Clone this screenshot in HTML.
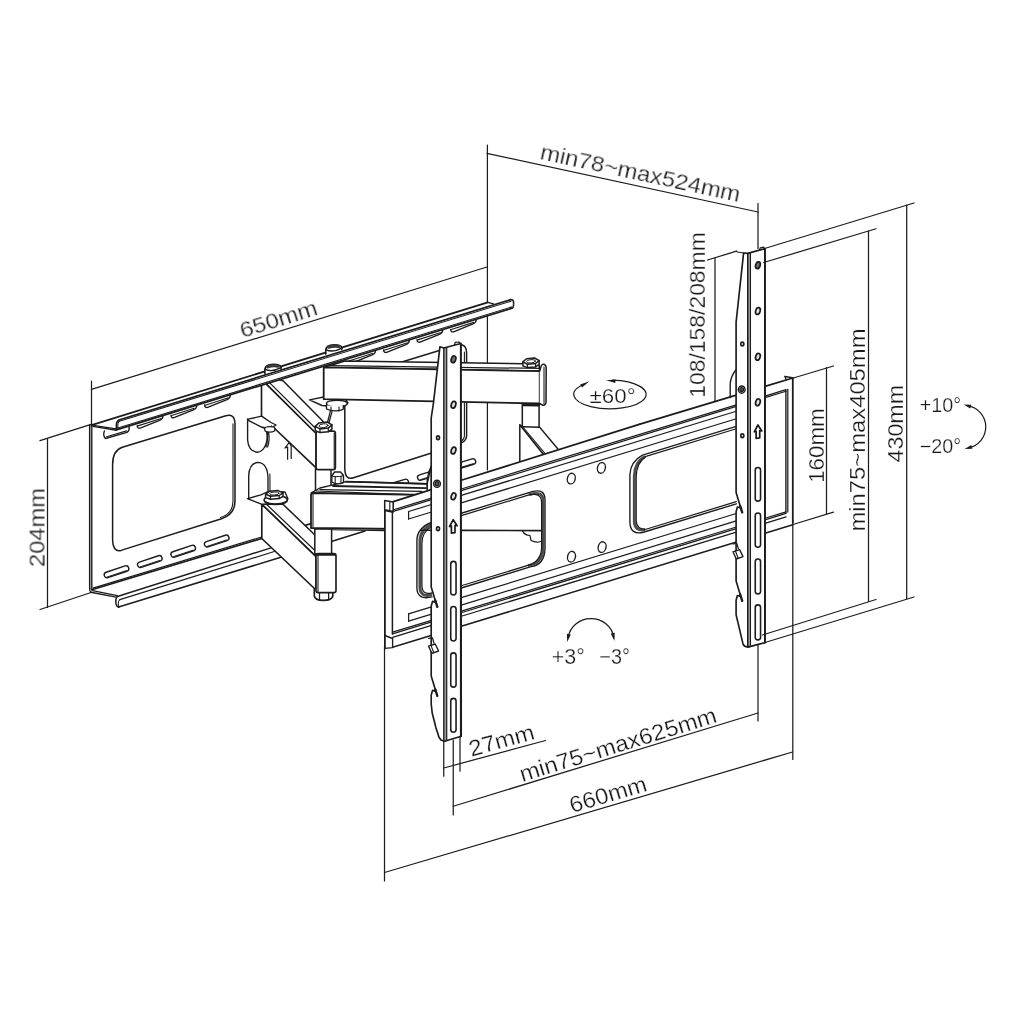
<!DOCTYPE html>
<html><head><meta charset="utf-8"><title>TV wall mount dimensions</title>
<style>
html,body{margin:0;padding:0;background:#fff;}
svg{display:block}
.t{font-family:"Liberation Sans",sans-serif;fill:#1a1a1a;stroke:#fff;}
</style></head><body>
<svg width="1028" height="1028" viewBox="0 0 1028 1028">
<rect x="0" y="0" width="1028" height="1028" fill="#fff" stroke="none" style="stroke:none"/>
<g stroke="#1c1c1c" stroke-linecap="round" stroke-linejoin="round" fill="none">
<path d="M487.40 145.00 L487.40 470.00" stroke-width="1.242" fill="none" />
<path d="M89.70 425.60 L89.70 588.50" stroke-width="1.518" fill="none" />
<path d="M91.80 426.30 L91.80 589.70" stroke-width="1.38" fill="none" />
<path d="M89.7 588.5 Q89.6 591.5 91 592.4" stroke-width="1.38" fill="none" />
<path d="M104.4 431 Q102.6 435.4 105.4 438.5 L127 432.3 Q129.5 431 129.2 427" stroke-width="1.38" fill="none" />
<path d="M106.60 436.70 L126.50 430.90" stroke-width="1.1039999999999999" fill="none" />
<path d="M137.2 425.68 Q137.2 428.68 140.2 428.08 L159.6 420.27 Q163.1 418.67 162.9 415.97" stroke-width="1.38" fill="none" />
<path d="M137.80 425.88 L160.40 418.67" stroke-width="1.1039999999999999" fill="none" />
<path d="M171 415.29 Q171 418.29 174 417.69 L193.4 409.88 Q196.9 408.28 196.70000000000002 405.58" stroke-width="1.38" fill="none" />
<path d="M171.60 415.49 L194.20 408.28" stroke-width="1.1039999999999999" fill="none" />
<path d="M204.6 404.97 Q204.6 407.97 207.6 407.37 L227.0 399.56 Q230.5 397.96 230.3 395.26" stroke-width="1.38" fill="none" />
<path d="M205.20 405.17 L227.80 397.96" stroke-width="1.1039999999999999" fill="none" />
<path d="M349.8 360.34 Q349.8 363.34 352.8 362.74 L372.2 354.94 Q375.7 353.34 375.5 350.64" stroke-width="1.38" fill="none" />
<path d="M350.40 360.54 L373.00 353.34" stroke-width="1.1039999999999999" fill="none" />
<path d="M383.6 349.96 Q383.6 352.96 386.6 352.36 L406.0 344.55 Q409.5 342.95 409.3 340.25" stroke-width="1.38" fill="none" />
<path d="M384.20 350.16 L406.80 342.95" stroke-width="1.1039999999999999" fill="none" />
<path d="M417.0 339.69 Q417.0 342.69 420.0 342.09 L439.4 334.29 Q442.9 332.69 442.7 329.99" stroke-width="1.38" fill="none" />
<path d="M417.60 339.89 L440.20 332.69" stroke-width="1.1039999999999999" fill="none" />
<path d="M450.6 329.37 Q450.6 332.37 453.6 331.77 L473.0 323.96 Q476.5 322.36 476.3 319.66" stroke-width="1.38" fill="none" />
<path d="M451.20 329.57 L473.80 322.36" stroke-width="1.1039999999999999" fill="none" />
<path d="M112.6 464.5 Q112.6 450.5 122.3 447.2 L225 415.92 Q234.8 412.72 235 423.92 L235 501 Q235 514.24 221.5 518.74 L121.1 550.4 Q112.6 552.5 112.6 538.5 Z" stroke-width="1.518" fill="none" />
<path d="M233 423.92 L233 501 Q233 513.74 220.5 517.54" stroke-width="1.1039999999999999" fill="none" />
<path d="M107.00 574.90 L126.00 568.60" stroke-width="6.9799999999999995" stroke-linecap="round" stroke="#1c1c1c" fill="none"/>
<path d="M107.00 574.90 L126.00 568.60" stroke-width="4.22" stroke-linecap="round" stroke="#fff" fill="none"/>
<path d="M106.90 577.10 L126.20 570.70" stroke-width="0.9659999999999999" fill="none" />
<path d="M140.30 564.70 L159.30 558.40" stroke-width="6.9799999999999995" stroke-linecap="round" stroke="#1c1c1c" fill="none"/>
<path d="M140.30 564.70 L159.30 558.40" stroke-width="4.22" stroke-linecap="round" stroke="#fff" fill="none"/>
<path d="M140.20 566.90 L159.50 560.50" stroke-width="0.9659999999999999" fill="none" />
<path d="M173.70 554.40 L192.70 548.10" stroke-width="6.9799999999999995" stroke-linecap="round" stroke="#1c1c1c" fill="none"/>
<path d="M173.70 554.40 L192.70 548.10" stroke-width="4.22" stroke-linecap="round" stroke="#fff" fill="none"/>
<path d="M173.60 556.60 L192.90 550.20" stroke-width="0.9659999999999999" fill="none" />
<path d="M207.20 544.20 L226.20 537.90" stroke-width="6.9799999999999995" stroke-linecap="round" stroke="#1c1c1c" fill="none"/>
<path d="M207.20 544.20 L226.20 537.90" stroke-width="4.22" stroke-linecap="round" stroke="#fff" fill="none"/>
<path d="M207.10 546.40 L226.40 540.00" stroke-width="0.9659999999999999" fill="none" />
<path d="M91.80 589.70 L261.60 538.50" stroke-width="1.656" fill="none" />
<path d="M93.00 588.10 L261.60 537.00" stroke-width="1.1039999999999999" fill="none" />
<path d="M90.80 592.30 L116.10 597.10" stroke-width="1.38" fill="none" />
<path d="M92.50 590.60 L117.40 595.60" stroke-width="1.1039999999999999" fill="none" />
<path d="M117.40 596.50 L271.00 547.80" stroke-width="1.38" fill="none" />
<path d="M119.90 599.60 L275.90 551.00" stroke-width="1.242" fill="none" />
<path d="M118.60 607.10 L280.90 557.20" stroke-width="1.518" fill="none" />
<path d="M117.4 596.5 Q115.6 598 115.8 602 Q116 606.5 118.6 607.1" stroke-width="1.518" fill="none" />
<path d="M119.9 599.6 Q118 601 118.2 604 Q118.4 606.5 119.5 607" stroke-width="1.1039999999999999" fill="none" />
<path d="M247.6 419 L247.6 440 Q248.5 451.5 257.5 452.3 Q266 451 267.6 436 L267.6 427.5" stroke-width="1.38" fill="none" />
<path d="M248.7 499 L248.7 476 Q249.2 463 258.4 462.4 Q267.6 463.5 268 478 L268 493.5" stroke-width="1.38" fill="none" />
<path d="M269.9 474 L270 490.5" stroke-width="1.1039999999999999" fill="none" />
<path d="M344.8 392 Q344.8 379 354.5 376.4 L456.5 345.3 Q466.4 342.5 466.6 353 L466.6 436 Q466.6 442 456 445.2 L353.5 477.8 Q344.8 480.5 344.8 468 Z" stroke-width="1.518" fill="none" />
<path d="M464.4 352 L464.4 436 Q464.3 441 456 443.6" stroke-width="1.1039999999999999" fill="none" />
<path d="M353.10 497.90 L372.10 492.20" stroke-width="6.9799999999999995" stroke-linecap="round" stroke="#1c1c1c" fill="none"/>
<path d="M353.10 497.90 L372.10 492.20" stroke-width="4.22" stroke-linecap="round" stroke="#fff" fill="none"/>
<path d="M353.10 500.10 L372.30 494.30" stroke-width="0.9659999999999999" fill="none" />
<path d="M386.70 487.70 L405.70 482.00" stroke-width="6.9799999999999995" stroke-linecap="round" stroke="#1c1c1c" fill="none"/>
<path d="M386.70 487.70 L405.70 482.00" stroke-width="4.22" stroke-linecap="round" stroke="#fff" fill="none"/>
<path d="M386.70 489.90 L405.90 484.10" stroke-width="0.9659999999999999" fill="none" />
<path d="M420.30 477.50 L439.30 471.80" stroke-width="6.9799999999999995" stroke-linecap="round" stroke="#1c1c1c" fill="none"/>
<path d="M420.30 477.50 L439.30 471.80" stroke-width="4.22" stroke-linecap="round" stroke="#fff" fill="none"/>
<path d="M420.30 479.70 L439.50 473.90" stroke-width="0.9659999999999999" fill="none" />
<path d="M453.90 467.30 L472.90 461.60" stroke-width="6.9799999999999995" stroke-linecap="round" stroke="#1c1c1c" fill="none"/>
<path d="M453.90 467.30 L472.90 461.60" stroke-width="4.22" stroke-linecap="round" stroke="#fff" fill="none"/>
<path d="M453.90 469.50 L473.10 463.70" stroke-width="0.9659999999999999" fill="none" />
<path d="M280.90 557.20 L365.00 531.00" stroke-width="1.518" fill="none" />
<path d="M261.60 538.50 L330.00 517.90" stroke-width="1.656" fill="none" />
<path d="M261.80 504.30 L283.00 504.30 L316.00 536.00 L316.00 556.60 Z" stroke-width="1.518" fill="#fff" />
<path d="M261.80 504.30 L316.00 556.60 L316.00 590.00 L261.80 538.50 Z" stroke-width="1.656" fill="#fff" />
<path d="M266.50 504.30 L318.30 553.80" stroke-width="1.242" fill="none" />
<path d="M247.50 498.60 L261.00 494.80 L268.00 491.50 L285.00 492.00 L288.00 499.00 L282.00 503.50 L262.00 504.30 Z" stroke-width="1.38" fill="#fff" />
<ellipse cx="275.7" cy="500" rx="11.6" ry="4.6" transform="rotate(0 275.7 500)" stroke-width="1.518" fill="#fff"/>
<path d="M264.5 501.5 Q275 506.5 287 501.3" stroke-width="1.242" fill="none" />
<path d="M265.60 494.10 L265.60 497.62 L270.47 499.20 L279.17 498.58 L283.00 496.38 L283.00 492.86 Z" stroke-width="1.518" fill="#fff" />
<path d="M265.60 494.10 L269.43 491.28 L278.13 490.58 L283.00 492.86 L279.17 495.50 L270.47 496.21 Z" stroke-width="1.518" fill="#fff" />
<path d="M270.47 496.21 L270.47 499.20" stroke-width="1.242" fill="none" />
<path d="M279.17 495.50 L279.17 498.58" stroke-width="1.242" fill="none" />
<ellipse cx="274.3" cy="493.568" rx="4.697999999999994" ry="1.496000000000002" transform="rotate(-4 274.3 493.568)" stroke-width="0.9659999999999999" fill="none"/>
<path d="M261.50 379.40 L264.00 374.00 L283.30 381.00 L323.20 421.50 L316.10 433.50 Z" stroke-width="1.518" fill="#fff" />
<path d="M261.50 379.40 L316.10 433.50 L316.10 467.90 L261.50 416.00 Z" stroke-width="1.656" fill="#fff" />
<path d="M266.20 379.40 L317.20 430.00" stroke-width="1.242" fill="none" />
<path d="M248.20 419.20 L261.50 416.20 L271.00 422.50 L276.00 425.00 L270.50 428.60 L262.00 427.30 L248.20 420.30 Z" stroke-width="1.38" fill="#fff" />
<path d="M262 427.3 Q266 429.5 271 428.5 L271.5 426" stroke-width="1.242" fill="none" />
<ellipse cx="269.8" cy="428.6" rx="5.2" ry="2.0" transform="rotate(0 269.8 428.6)" stroke-width="1.242" fill="#fff"/>
<path d="M264.8 429 L265 431 Q270 433.4 274.6 431 L274.8 428.8" stroke-width="1.242" fill="#fff" />
<path d="M266.5 432 Q268.5 441 266 447" stroke-width="1.242" fill="none" />
<path d="M268.6 432.6 Q270 440 267.6 447" stroke-width="1.242" fill="none" />
<path d="M287.6 459.2 L287.6 447 L285 448 L289.3 442.3 L291.2 446.2 L291.2 458.5" stroke-width="1.242" fill="none" />
<path d="M315.50 469.00 L331.00 469.00 L331.00 492.00 L315.50 492.00 Z" stroke-width="1.518" fill="#fff" />
<path d="M314.80 529.00 L331.60 529.00 L331.60 554.00 L314.80 554.00 Z" stroke-width="1.518" fill="#fff" />
<path d="M318.3 431.1 L333.2 431.1 Q335.4 431.1 335.4 433.3 L335.4 467.5 Q335.4 469.7 333.2 469.7 L318.3 469.7 Q316.1 469.7 316.1 467.5 L316.1 433.3 Q316.1 431.1 318.3 431.1 Z" stroke-width="1.656" fill="#fff" />
<path d="M334.20 433.00 L334.20 468.00" stroke-width="1.1039999999999999" fill="none" />
<path d="M315.30 426.34 L315.30 430.66 L319.95 432.60 L328.25 431.84 L331.90 429.14 L331.90 424.82 Z" stroke-width="1.518" fill="#fff" />
<path d="M315.30 426.34 L318.95 422.88 L327.25 422.02 L331.90 424.82 L328.25 428.06 L319.95 428.93 Z" stroke-width="1.518" fill="#fff" />
<path d="M319.95 428.93 L319.95 432.60" stroke-width="1.242" fill="none" />
<path d="M328.25 428.06 L328.25 431.84" stroke-width="1.242" fill="none" />
<ellipse cx="323.6" cy="425.688" rx="4.481999999999991" ry="1.836000000000002" transform="rotate(-4 323.6 425.688)" stroke-width="0.9659999999999999" fill="none"/>
<path d="M314.3 589 L314.3 596 Q315 600.2 323 600.4 Q332 600.4 332.8 596 L332.8 589" stroke-width="1.656" fill="#fff" />
<path d="M319.50 592.00 L319.50 600.00" stroke-width="1.242" fill="none" />
<path d="M328.60 592.00 L328.60 600.00" stroke-width="1.242" fill="none" />
<path d="M318.2 553.6 L333.8 553.6 Q336 553.6 336 555.8000000000001 L336 590.5 Q336 592.7 333.8 592.7 L318.2 592.7 Q316 592.7 316 590.5 L316 555.8000000000001 Q316 553.6 318.2 553.6 Z" stroke-width="1.656" fill="#fff" />
<path d="M318.00 555.00 L318.00 591.50" stroke-width="1.1039999999999999" fill="none" />
<path d="M317 554.6 L335 554.6" stroke-width="2.2079999999999997" fill="none" />
<path d="M309.50 399.90 L323.70 397.00 L345.00 399.00 L348.00 403.00 L338.00 406.80 L322.00 405.50 Z" stroke-width="1.38" fill="#fff" />
<ellipse cx="336.8" cy="403.6" rx="10.4" ry="3.4" transform="rotate(0 336.8 403.6)" stroke-width="1.38" fill="#fff"/>
<path d="M326.3 405.5 L326.6 409 Q334 412.6 343.2 409.3 L343.4 405.8" stroke-width="1.38" fill="#fff" />
<path d="M331.00 407.00 L331.00 411.00" stroke-width="1.1039999999999999" fill="none" />
<path d="M339.00 407.00 L339.00 411.00" stroke-width="1.1039999999999999" fill="none" />
<path d="M330.3 411.4 L327.6 422" stroke-width="1.242" fill="none" />
<path d="M332 411.6 L329 422.5" stroke-width="1.242" fill="none" />
<path d="M323.70 367.40 L344.90 361.10 L539.00 364.00 L539.70 371.10 Z" stroke-width="1.518" fill="#fff" />
<path d="M330.00 365.60 L539.50 368.40" stroke-width="1.242" fill="none" />
<path d="M323.70 367.40 L539.70 371.10 L539.70 403.50 L323.70 399.20 Z" stroke-width="1.7939999999999998" fill="#fff" />
<path d="M539.7 371.1 L541 366.5 Q542 363.6 544.5 364.5 Q546.2 365.3 546.2 368 L546 402 Q545.8 405.5 543 405.3 L539.7 403.5" stroke-width="1.518" fill="#fff" />
<path d="M544.00 367.00 L544.00 403.50" stroke-width="1.1039999999999999" fill="none" />
<path d="M522.90 361.92 L522.90 365.84 L527.44 367.60 L535.54 366.91 L539.10 364.46 L539.10 360.54 Z" stroke-width="1.518" fill="#fff" />
<path d="M522.90 361.92 L526.46 358.78 L534.56 358.00 L539.10 360.54 L535.54 363.48 L527.44 364.27 Z" stroke-width="1.518" fill="#fff" />
<path d="M527.44 364.27 L527.44 367.60" stroke-width="1.242" fill="none" />
<path d="M535.54 363.48 L535.54 366.91" stroke-width="1.242" fill="none" />
<ellipse cx="531.0" cy="361.32800000000003" rx="4.374000000000013" ry="1.6660000000000021" transform="rotate(-4 531.0 361.32800000000003)" stroke-width="0.9659999999999999" fill="none"/>
<path d="M522.30 404.30 L539.10 404.50 L539.10 428.00 L522.30 428.00 Z" stroke-width="1.518" fill="#fff" />
<path d="M523 405.2 L538.5 405.4" stroke-width="2.07" fill="none" />
<path d="M519.80 424.90 L523.00 426.80 L539.70 427.30 L560.00 451.50 L545.00 456.50 Z" stroke-width="1.38" fill="#fff" />
<path d="M519.80 424.90 L545.00 456.50 L545.00 470.00 L519.80 470.00 Z" stroke-width="1.518" fill="#fff" />
<path d="M522.50 426.50 L547.00 455.80" stroke-width="1.1039999999999999" fill="none" />
<path d="M91.50 425.10 L116.30 429.90 L512.00 308.30 L513.60 302.50 L510.80 299.60 L493.40 303.80 L487.80 302.30 Z" stroke-width="0.13799999999999998" fill="#fff" stroke="none"/>
<path d="M91.50 425.10 L487.80 302.30" stroke-width="1.7939999999999998" fill="none" />
<path d="M93.00 426.40 L116.40 430.20" stroke-width="1.38" fill="none" />
<path d="M91.50 425.10 L116.10 428.90" stroke-width="1.38" fill="none" />
<path d="M487.80 302.30 L493.40 303.80" stroke-width="1.38" fill="none" />
<path d="M119.60 419.70 L510.80 299.60" stroke-width="1.656" fill="none" />
<path d="M119.20 421.30 L511.00 301.20" stroke-width="1.1039999999999999" fill="none" />
<path d="M116.30 429.90 L512.00 308.30" stroke-width="1.656" fill="none" />
<path d="M116.30 428.50 L512.00 306.90" stroke-width="1.1039999999999999" fill="none" />
<path d="M119.6 419.7 Q116.6 421 116.4 424 L116.3 429.9" stroke-width="1.518" fill="none" />
<path d="M118.8 421.6 Q117.8 422.6 117.8 425 L117.8 429" stroke-width="1.1039999999999999" fill="none" />
<path d="M510.8 299.6 Q513.6 299.6 513.6 302.5 L513.5 306 Q513.4 308 512 308.3" stroke-width="1.518" fill="none" />
<path d="M264.9 373.7 L264.9 369.2 Q265.4 364.7 272.9 364.4 Q280.4 364.2 280.9 367.2 L280.9 369.2" stroke-width="1.656" fill="#fff" />
<path d="M264.9 369.2 Q271.9 372.7 280.9 367.7" stroke-width="1.38" fill="none" />
<path d="M267.7 366.9 Q272.9 365.0 278.29999999999995 366.2" stroke-width="3.036" fill="none" stroke="#3a3a3a"/>
<path d="M325.8 354.1 L325.8 349.6 Q326.3 345.1 333.8 344.8 Q341.3 344.6 341.8 347.6 L341.8 349.6" stroke-width="1.656" fill="#fff" />
<path d="M325.8 349.6 Q332.8 353.1 341.8 348.1" stroke-width="1.38" fill="none" />
<path d="M328.6 347.3 Q333.8 345.40000000000003 339.2 346.6" stroke-width="3.036" fill="none" stroke="#3a3a3a"/>
<path d="M311.50 492.60 L320.00 488.00 L333.00 484.80 L346.00 481.60 L427.20 483.80 L430.30 469.90 L431.50 468.00 L431.50 497.00 L385.00 497.00 Z" stroke-width="1.38" fill="#fff" />
<path d="M346.00 481.60 L427.20 483.80" stroke-width="1.656" fill="none" />
<path d="M333.00 486.00 L426.00 488.10" stroke-width="1.7939999999999998" fill="none" />
<path d="M320.00 489.60 L422.00 491.30" stroke-width="1.242" fill="none" />
<path d="M316.00 491.00 L410.00 494.60" stroke-width="1.242" fill="none" />
<path d="M427.20 483.80 L427.20 489.00" stroke-width="1.242" fill="none" />
<path d="M331.8 476 L331.8 482 Q337 485.5 343.5 482.5 L343.5 475.5 L340.5 472 L334.5 472 Z" stroke-width="1.38" fill="#fff" />
<path d="M335.20 476.80 L335.20 483.30" stroke-width="1.1039999999999999" fill="none" />
<path d="M341.00 476.20 L341.00 483.00" stroke-width="1.1039999999999999" fill="none" />
<path d="M331.8 476 L335.2 476.8 L341 476.2 L343.5 475.5" stroke-width="1.1039999999999999" fill="none" />
<path d="M312.9 493 L545 497 L540.7 530.6 L311 528 L311 495 Q311 493 312.9 493 Z" stroke-width="1.7939999999999998" fill="#fff" />
<path d="M313.00 494.50 L313.00 527.00" stroke-width="1.1039999999999999" fill="none" />
<path d="M332.00 529.80 L385.00 530.60" stroke-width="1.1039999999999999" fill="none" />
<path d="M384.70 500.50 L392.00 502.00 L640.00 424.20 L792.80 378.00 L792.80 522.50 L392.60 647.60 L384.90 648.40 Z" stroke-width="0.13799999999999998" fill="#fff" stroke="none"/>
<path d="M392.50 501.84 L432.00 489.45" stroke-width="1.7939999999999998" fill="none" />
<path d="M461.30 480.26 L640.00 424.20" stroke-width="1.7939999999999998" fill="none" />
<path d="M640.00 424.20 L736.30 395.08" stroke-width="1.7939999999999998" fill="none" />
<path d="M765.00 386.41 L792.80 378.00" stroke-width="1.7939999999999998" fill="none" />
<path d="M392.60 510.00 L431.50 498.10" stroke-width="1.242" fill="none" />
<path d="M392.60 511.60 L431.50 499.70" stroke-width="1.242" fill="none" />
<path d="M461.30 488.98 L736.30 404.83" stroke-width="1.242" fill="none" />
<path d="M461.30 490.58 L736.30 406.43" stroke-width="1.242" fill="none" />
<path d="M765.00 396.05 L786.00 389.62" stroke-width="1.242" fill="none" />
<path d="M765.00 397.65 L786.00 391.22" stroke-width="1.242" fill="none" />
<path d="M408.60 511.51 L431.50 504.50" stroke-width="1.242" fill="none" />
<path d="M408.60 519.01 L431.50 512.00" stroke-width="1.242" fill="none" />
<path d="M461.30 495.38 L736.30 411.23" stroke-width="1.242" fill="none" />
<path d="M461.30 502.88 L736.30 418.73" stroke-width="1.242" fill="none" />
<path d="M408.60 511.51 L408.60 519.01" stroke-width="1.242" fill="none" />
<path d="M408.60 613.81 L431.50 606.80" stroke-width="1.242" fill="none" />
<path d="M408.60 621.21 L431.50 614.20" stroke-width="1.242" fill="none" />
<path d="M461.30 597.68 L736.30 513.53" stroke-width="1.242" fill="none" />
<path d="M461.30 605.08 L736.30 520.93" stroke-width="1.242" fill="none" />
<path d="M408.60 613.81 L408.60 621.21" stroke-width="1.242" fill="none" />
<path d="M392.60 632.20 L431.50 620.30" stroke-width="1.242" fill="none" />
<path d="M392.60 633.80 L431.50 621.90" stroke-width="1.242" fill="none" />
<path d="M392.60 637.30 L431.50 625.40" stroke-width="1.242" fill="none" />
<path d="M461.30 611.18 L736.30 527.03" stroke-width="1.242" fill="none" />
<path d="M461.30 612.78 L736.30 528.63" stroke-width="1.242" fill="none" />
<path d="M461.30 616.28 L736.30 532.13" stroke-width="1.242" fill="none" />
<path d="M765.00 518.25 L786.00 511.82" stroke-width="1.242" fill="none" />
<path d="M765.00 519.85 L786.00 513.42" stroke-width="1.242" fill="none" />
<path d="M765.00 523.35 L786.00 516.92" stroke-width="1.242" fill="none" />
<path d="M392.60 647.30 L440.00 632.80" stroke-width="1.518" fill="none" />
<path d="M461.30 626.28 L743.00 540.08" stroke-width="1.518" fill="none" />
<path d="M765.00 533.35 L792.80 524.84" stroke-width="1.518" fill="none" />
<path d="M384.90 500.80 L384.90 648.40" stroke-width="1.7939999999999998" fill="none" />
<path d="M392.40 510.87 L392.40 634.07" stroke-width="1.518" fill="none" />
<path d="M384.70 500.50 L393.20 502.10 L393.20 511.40 L384.70 509.80 Z" stroke-width="1.518" fill="#fff" />
<path d="M389.80 501.50 L389.80 510.60" stroke-width="1.1039999999999999" fill="none" />
<path d="M384.90 510.60 L393.00 512.30" stroke-width="1.242" fill="none" />
<path d="M384.90 635.50 L392.60 638.50 L392.60 647.60 L384.90 648.40" stroke-width="1.38" fill="none" />
<path d="M792.80 378.00 L792.80 522.50" stroke-width="1.7939999999999998" fill="none" />
<path d="M785.90 390.45 L785.90 512.65" stroke-width="1.38" fill="none" />
<path d="M787.80 389.37 L787.80 512.07" stroke-width="1.242" fill="none" />
<path d="M785.00 376.50 L792.30 377.80" stroke-width="1.38" fill="none" />
<path d="M785.00 376.50 L786.20 379.80" stroke-width="1.38" fill="none" />
<path d="M736.3 426.43 L642.5 455.13 Q630.5 461.49 629.9 474.7 L629.9 522.3 Q630.1999999999999 534.89 642.5 532.53 L736.3 503.83" stroke-width="1.38" fill="none" />
<path d="M645 456.57 Q634.6 462.05 634.3 476 L634.3 521.5 Q634.6 531.55 645 529.77" stroke-width="2.8979999999999997" fill="none" stroke="#4d4d4d" stroke-linecap="butt"/>
<path d="M736.3 428.73 L646 456.36 Q636.4 462.50 636.2 477 L636.2 520.5 Q636.4 529.40 646 529.26 L736.3 501.63" stroke-width="1.242" fill="none" />
<path d="M461.3 513.28 L533 491.34 Q545 488.67 545 499.67 L545 548.37 Q544.5 564.82 531 566.65 L461.3 587.98" stroke-width="1.38" fill="none" />
<path d="M529 494.57 Q543.3 490.19 543.3 501.19 L543.3 547.89 Q543 562.62 528 565.57" stroke-width="2.8979999999999997" fill="none" stroke="#4d4d4d" stroke-linecap="butt"/>
<path d="M461.3 515.58 L529 494.87 Q541.6 492.11 541.6 502.71 L541.6 547.41 Q541.3 561.74 527 565.68 L461.3 585.78" stroke-width="1.242" fill="none" />
<path d="M432 522.25 Q416.9 527.87 416.9 540.87 L416.9 587.57 Q416.9 600.57 432 596.95" stroke-width="1.38" fill="none" />
<path d="M432 524.45 Q419.9 529.37 419.9 541.87 L419.9 586.57 Q419.9 598.07 432 594.75" stroke-width="2.8979999999999997" fill="none" stroke="#4d4d4d" stroke-linecap="butt"/>
<path d="M432 526.25 Q421.9 531.87 421.9 543.37 L421.9 585.07 Q421.9 595.57 432 592.95" stroke-width="1.242" fill="none" />
<path d="M461.30 530.40 L540.70 530.60" stroke-width="1.656" fill="none" />
<path d="M421.50 530.20 L431.50 530.30" stroke-width="1.518" fill="none" />
<path d="M522.6 531 Q524 535 530 535.5 L531 540.5 Q536 543 540.7 541.5" stroke-width="1.242" fill="none" />
<ellipse cx="571.3" cy="478.6" rx="3.9" ry="5.4" transform="rotate(14 571.3 478.6)" stroke-width="1.38" fill="none"/>
<ellipse cx="601.4" cy="467.9" rx="3.9" ry="5.4" transform="rotate(14 601.4 467.9)" stroke-width="1.38" fill="none"/>
<ellipse cx="571.5" cy="556.7" rx="3.9" ry="5.4" transform="rotate(14 571.5 556.7)" stroke-width="1.38" fill="none"/>
<ellipse cx="602.1" cy="547.1" rx="3.9" ry="5.4" transform="rotate(14 602.1 547.1)" stroke-width="1.38" fill="none"/>
<path d="M743.60 253.00 L736.10 322.20 L736.10 492.50 L740.80 508.00 L737.40 507.00 L736.10 511.80 L736.10 581.00 L740.80 596.50 L737.40 595.50 L736.10 600.30 L736.10 614.70 L743.10 644.40 L744.60 646.10 L747.90 647.10 L747.90 647.10 L765.00 642.70 L764.90 248.70 L747.70 253.40 Z" stroke-width="1.656" fill="#fff" />
<path d="M747.70 253.40 L747.70 647.10" stroke-width="1.38" fill="none" />
<path d="M750.40 253.10 L750.40 646.50" stroke-width="1.242" fill="none" />
<path d="M748.85 253.40 L748.85 647.10" stroke-width="0.828" fill="none" />
<path d="M764.90 248.70 L764.90 642.70" stroke-width="1.7939999999999998" fill="none" />
<ellipse cx="757.9" cy="265.2" rx="2.2" ry="3.5" transform="rotate(18 757.9 265.2)" stroke-width="1.7249999999999999" fill="#777"/>
<ellipse cx="757.9" cy="311" rx="2.2" ry="3.5" transform="rotate(18 757.9 311)" stroke-width="1.7249999999999999" fill="#e4e4e4"/>
<ellipse cx="757.9" cy="356.8" rx="2.2" ry="3.5" transform="rotate(18 757.9 356.8)" stroke-width="1.7249999999999999" fill="#e4e4e4"/>
<ellipse cx="757.9" cy="402.3" rx="2.2" ry="3.5" transform="rotate(18 757.9 402.3)" stroke-width="1.7249999999999999" fill="#e4e4e4"/>
<ellipse cx="742.3" cy="344" rx="1.5" ry="1.9" transform="rotate(0 742.3 344)" stroke-width="1.656" fill="none"/>
<ellipse cx="742.3" cy="435.7" rx="1.5" ry="1.9" transform="rotate(0 742.3 435.7)" stroke-width="1.656" fill="none"/>
<ellipse cx="741.7" cy="389.6" rx="3.4" ry="3.6" transform="rotate(0 741.7 389.6)" stroke-width="1.38" fill="none"/>
<ellipse cx="741.7" cy="389.6" rx="1.9" ry="2.1" transform="rotate(0 741.7 389.6)" stroke-width="1.242" fill="#555"/>
<path d="M757.9 425.0 L761.8 431.0 L759.6999999999999 430.70000000000005 L759.6999999999999 437.90000000000003 L756.1 438.40000000000003 L756.1 431.20000000000005 L754.3 431.8 Z" stroke-width="1.7249999999999999" fill="none" />
<path d="M757.90 470.20 L757.90 498.50" stroke-width="6.887" stroke-linecap="round" stroke="#1c1c1c" fill="none"/>
<path d="M757.90 470.20 L757.90 498.50" stroke-width="3.713" stroke-linecap="round" stroke="#fff" fill="none"/>
<path d="M757.90 515.60 L757.90 544.60" stroke-width="6.887" stroke-linecap="round" stroke="#1c1c1c" fill="none"/>
<path d="M757.90 515.60 L757.90 544.60" stroke-width="3.713" stroke-linecap="round" stroke="#fff" fill="none"/>
<path d="M757.90 561.70 L757.90 591.20" stroke-width="6.887" stroke-linecap="round" stroke="#1c1c1c" fill="none"/>
<path d="M757.90 561.70 L757.90 591.20" stroke-width="3.713" stroke-linecap="round" stroke="#fff" fill="none"/>
<path d="M757.90 607.50 L757.90 637.20" stroke-width="6.887" stroke-linecap="round" stroke="#1c1c1c" fill="none"/>
<path d="M757.90 607.50 L757.90 637.20" stroke-width="3.713" stroke-linecap="round" stroke="#fff" fill="none"/>
<path d="M736.10 251.20 L737.50 252.00 L743.60 253.00" stroke-width="1.242" fill="none" />
<path d="M759.6 250 L760.2 247.8 L763.6 247.2 L764.6 248.8" stroke-width="1.242" fill="none" />
<path d="M740.20 506.00 L742.20 512.40" stroke-width="2.3459999999999996" fill="none" />
<path d="M740.20 594.50 L742.20 600.90" stroke-width="2.3459999999999996" fill="none" />
<path d="M736.1 369.5 Q731 376 730.2 383.5 L730.2 397.5" stroke-width="1.38" fill="none" />
<path d="M733.00 551.80 L739.60 549.60 L743.00 556.60 L736.30 559.00 Z" stroke-width="1.38" fill="#fff" />
<path d="M735.40 551.00 L738.20 558.30" stroke-width="1.1039999999999999" fill="none" />
<path d="M733 544 L736.8 543.4 L738.4 548.6" stroke-width="1.242" fill="none" />
<path d="M439.90 346.80 L433.40 403.50 L431.20 418.00 L431.20 587.00 L435.90 602.40 L432.50 601.40 L431.20 606.20 L431.20 676.00 L435.90 691.40 L432.50 690.40 L431.20 695.20 L431.20 704.00 L432.20 713.00 L436.00 728.00 L439.00 737.30 L441.00 740.00 L444.50 741.30 L444.50 741.30 L461.25 736.30 L460.80 343.50 L443.80 348.00 Z" stroke-width="1.656" fill="#fff" />
<path d="M443.80 348.00 L443.80 741.30" stroke-width="1.38" fill="none" />
<path d="M446.70 347.70 L446.70 740.70" stroke-width="1.242" fill="none" />
<path d="M445.05 348.00 L445.05 741.30" stroke-width="0.828" fill="none" />
<path d="M460.80 343.50 L460.80 736.30" stroke-width="1.7939999999999998" fill="none" />
<ellipse cx="453.5" cy="359.3" rx="2.2" ry="3.5" transform="rotate(18 453.5 359.3)" stroke-width="1.7249999999999999" fill="#777"/>
<ellipse cx="453.5" cy="404.7" rx="2.2" ry="3.5" transform="rotate(18 453.5 404.7)" stroke-width="1.7249999999999999" fill="#e4e4e4"/>
<ellipse cx="453.5" cy="450.5" rx="2.2" ry="3.5" transform="rotate(18 453.5 450.5)" stroke-width="1.7249999999999999" fill="#e4e4e4"/>
<ellipse cx="453.5" cy="496.3" rx="2.2" ry="3.5" transform="rotate(18 453.5 496.3)" stroke-width="1.7249999999999999" fill="#e4e4e4"/>
<ellipse cx="438" cy="437.7" rx="1.5" ry="1.9" transform="rotate(0 438 437.7)" stroke-width="1.656" fill="none"/>
<ellipse cx="438" cy="528.8" rx="1.5" ry="1.9" transform="rotate(0 438 528.8)" stroke-width="1.656" fill="none"/>
<ellipse cx="437" cy="483.8" rx="3.4" ry="3.6" transform="rotate(0 437 483.8)" stroke-width="1.38" fill="none"/>
<ellipse cx="437" cy="483.8" rx="1.9" ry="2.1" transform="rotate(0 437 483.8)" stroke-width="1.242" fill="#555"/>
<path d="M453.2 519.6999999999999 L457.09999999999997 525.6999999999999 L455.0 525.4 L455.0 532.5999999999999 L451.4 533.0999999999999 L451.4 525.9 L449.59999999999997 526.5 Z" stroke-width="1.7249999999999999" fill="none" />
<path d="M453.40 564.00 L453.40 592.30" stroke-width="6.887" stroke-linecap="round" stroke="#1c1c1c" fill="none"/>
<path d="M453.40 564.00 L453.40 592.30" stroke-width="3.713" stroke-linecap="round" stroke="#fff" fill="none"/>
<path d="M453.40 609.20 L453.40 638.30" stroke-width="6.887" stroke-linecap="round" stroke="#1c1c1c" fill="none"/>
<path d="M453.40 609.20 L453.40 638.30" stroke-width="3.713" stroke-linecap="round" stroke="#fff" fill="none"/>
<path d="M453.40 655.50 L453.40 684.50" stroke-width="6.887" stroke-linecap="round" stroke="#1c1c1c" fill="none"/>
<path d="M453.40 655.50 L453.40 684.50" stroke-width="3.713" stroke-linecap="round" stroke="#fff" fill="none"/>
<path d="M453.40 701.00 L453.40 729.60" stroke-width="6.887" stroke-linecap="round" stroke="#1c1c1c" fill="none"/>
<path d="M453.40 701.00 L453.40 729.60" stroke-width="3.713" stroke-linecap="round" stroke="#fff" fill="none"/>
<path d="M454.6 344.9 L455.2 342.4 L458.8 342 L460.2 343.6" stroke-width="1.242" fill="none" />
<path d="M435.30 600.40 L437.30 606.80" stroke-width="2.3459999999999996" fill="none" />
<path d="M435.30 689.40 L437.30 695.80" stroke-width="2.3459999999999996" fill="none" />
<path d="M431.2 466 Q428 472 427.2 480 L427.2 489.5" stroke-width="1.38" fill="none" />
<path d="M428.60 646.20 L435.20 644.00 L438.60 651.00 L431.90 653.40 Z" stroke-width="1.38" fill="#fff" />
<path d="M431.00 645.40 L433.80 652.70" stroke-width="1.1039999999999999" fill="none" />
<path d="M428.6 638.4 L432.4 637.8 L434 643" stroke-width="1.242" fill="none" />
<path d="M91.50 381.00 L91.50 425.00" stroke-width="1.242" fill="none" />
<path d="M91.50 389.30 L487.00 267.00" stroke-width="1.242" fill="none" />
<path d="M487.00 153.30 L758.00 212.00" stroke-width="1.242" fill="none" />
<path d="M758.00 203.50 L758.00 248.50" stroke-width="1.242" fill="none" />
<path d="M47.50 439.00 L47.50 607.50" stroke-width="1.242" fill="none" />
<path d="M40.00 440.70 L91.00 424.30" stroke-width="1.242" fill="none" />
<path d="M40.00 609.50 L91.00 592.50" stroke-width="1.242" fill="none" />
<path d="M906.70 205.00 L906.70 598.70" stroke-width="1.242" fill="none" />
<path d="M763.75 248.75 L914.00 203.00" stroke-width="1.242" fill="none" />
<path d="M765.00 642.50 L914.00 597.00" stroke-width="1.242" fill="none" />
<path d="M868.50 231.20 L868.50 601.20" stroke-width="1.242" fill="none" />
<path d="M763.75 262.50 L876.00 228.75" stroke-width="1.242" fill="none" />
<path d="M762.50 635.00 L876.00 599.50" stroke-width="1.242" fill="none" />
<path d="M826.50 367.50 L826.50 513.75" stroke-width="1.242" fill="none" />
<path d="M793.40 378.00 L833.50 366.00" stroke-width="1.242" fill="none" />
<path d="M793.00 524.50 L833.50 512.20" stroke-width="1.242" fill="none" />
<path d="M715.00 258.00 L715.00 401.50" stroke-width="1.242" fill="none" />
<path d="M707.50 260.00 L736.50 251.20" stroke-width="1.242" fill="none" />
<path d="M384.50 872.50 L792.50 752.00" stroke-width="1.242" fill="none" />
<path d="M384.50 647.50 L384.50 881.00" stroke-width="1.242" fill="none" />
<path d="M792.80 520.00 L792.80 759.50" stroke-width="1.242" fill="none" />
<path d="M453.25 806.25 L758.00 713.00" stroke-width="1.242" fill="none" />
<path d="M453.25 740.00 L453.25 815.00" stroke-width="1.242" fill="none" />
<path d="M758.00 645.00 L758.00 721.00" stroke-width="1.242" fill="none" />
<path d="M443.75 768.00 L545.50 740.50" stroke-width="1.242" fill="none" />
<path d="M443.75 741.25 L443.75 776.25" stroke-width="1.242" fill="none" />
<path d="M460.00 736.25 L460.00 771.25" stroke-width="1.242" fill="none" />
<path d="M584.85 384.04 A36.2 14.4 0 1 0 612.53 380.04" stroke-width="1.242" fill="none" />
<path d="M589.35 381.24 L582.03 387.55 L580.23 384.43 Z" fill="#1c1c1c" stroke="none"/>
<path d="M606.03 380.34 L615.66 379.54 L615.28 383.12 Z" fill="#1c1c1c" stroke="none"/>
<path d="M568.2 637.5 A23 21.6 0 0 1 613.8 637.5" stroke-width="1.242" fill="none" />
<path d="M567.20 642.00 L566.91 633.76 L570.82 634.59 Z" fill="#1c1c1c" stroke="none"/>
<path d="M614.40 641.00 L610.78 633.59 L614.69 632.76 Z" fill="#1c1c1c" stroke="none"/>
<path d="M967.5 405.8 A20.5 21.2 0 0 1 968.5 447.8" stroke-width="1.242" fill="none" />
<path d="M963.60 404.60 L971.33 404.84 L970.29 408.49 Z" fill="#1c1c1c" stroke="none"/>
<path d="M964.60 449.10 L971.22 445.09 L972.33 448.72 Z" fill="#1c1c1c" stroke="none"/>
<g opacity="0.999">
<text x="0" y="0" transform="translate(278.3,318.6) rotate(-17.4)" font-size="22.5" text-anchor="middle" textLength="80" lengthAdjust="spacingAndGlyphs" dominant-baseline="central" class="t" stroke-width="0.25">650mm</text>
<text x="0" y="0" transform="translate(36.5,527.5) rotate(-90)" font-size="22.5" text-anchor="middle" textLength="79" lengthAdjust="spacingAndGlyphs" dominant-baseline="central" class="t" stroke-width="0.25">204mm</text>
<text x="0" y="0" transform="translate(640.6,172.6) rotate(12.2)" font-size="22.5" text-anchor="middle" textLength="204" lengthAdjust="spacingAndGlyphs" dominant-baseline="central" class="t" stroke-width="0.25">min78~max524mm</text>
<text x="0" y="0" transform="translate(696.8,315) rotate(-90)" font-size="22.5" text-anchor="middle" textLength="165.5" lengthAdjust="spacingAndGlyphs" dominant-baseline="central" class="t" stroke-width="0.25">108/158/208mm</text>
<text x="0" y="0" transform="translate(816.3,445.6) rotate(-90)" font-size="22.5" text-anchor="middle" textLength="74.5" lengthAdjust="spacingAndGlyphs" dominant-baseline="central" class="t" stroke-width="0.25">160mm</text>
<text x="0" y="0" transform="translate(857.3,430) rotate(-90)" font-size="22.5" text-anchor="middle" textLength="203" lengthAdjust="spacingAndGlyphs" dominant-baseline="central" class="t" stroke-width="0.25">min75~max405mm</text>
<text x="0" y="0" transform="translate(895.5,423.7) rotate(-90)" font-size="22.5" text-anchor="middle" textLength="77.5" lengthAdjust="spacingAndGlyphs" dominant-baseline="central" class="t" stroke-width="0.25">430mm</text>
<text x="0" y="0" transform="translate(940.5,405.3) rotate(0)" font-size="19.5" text-anchor="middle" textLength="41.5" lengthAdjust="spacingAndGlyphs" dominant-baseline="central" class="t" stroke-width="0.25">+10°</text>
<text x="0" y="0" transform="translate(940.5,446.3) rotate(0)" font-size="19.5" text-anchor="middle" textLength="41.5" lengthAdjust="spacingAndGlyphs" dominant-baseline="central" class="t" stroke-width="0.25">−20°</text>
<text x="0" y="0" transform="translate(612.6,396) rotate(0)" font-size="20" text-anchor="middle" textLength="46" lengthAdjust="spacingAndGlyphs" dominant-baseline="central" class="t" stroke-width="0.25">±60°</text>
<text x="0" y="0" transform="translate(568.3,657.3) rotate(0)" font-size="21.5" text-anchor="middle" textLength="33" lengthAdjust="spacingAndGlyphs" dominant-baseline="central" class="t" stroke-width="0.25">+3°</text>
<text x="0" y="0" transform="translate(614.6,657.3) rotate(0)" font-size="21.5" text-anchor="middle" textLength="30.5" lengthAdjust="spacingAndGlyphs" dominant-baseline="central" class="t" stroke-width="0.25">−3°</text>
<text x="0" y="0" transform="translate(501.5,740.5) rotate(-15.5)" font-size="22.5" text-anchor="middle" textLength="67" lengthAdjust="spacingAndGlyphs" dominant-baseline="central" class="t" stroke-width="0.25">27mm</text>
<text x="0" y="0" transform="translate(618,744.8) rotate(-17)" font-size="22.5" text-anchor="middle" textLength="205" lengthAdjust="spacingAndGlyphs" dominant-baseline="central" class="t" stroke-width="0.25">min75~max625mm</text>
<text x="0" y="0" transform="translate(608,794.6) rotate(-16.5)" font-size="22.5" text-anchor="middle" textLength="79.5" lengthAdjust="spacingAndGlyphs" dominant-baseline="central" class="t" stroke-width="0.25">660mm</text>
</g>
</g>
</svg>
</body></html>
